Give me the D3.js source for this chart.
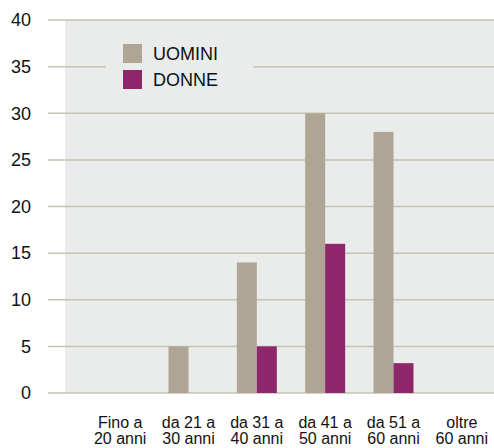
<!DOCTYPE html>
<meta charset="utf-8">
<script src="https://d3js.org/d3.v7.js"></script>
<style>
  body { margin: 0; background: #fff; }
  text { font-family: "Liberation Sans", Arial, sans-serif; fill: #111; }
</style>
<svg id="chart" width="494" height="448"></svg>
<script>

// data
const categories = [["Fino a", "20 anni"], ["da 21 a", "30 anni"], ["da 31 a", "40 anni"],
                    ["da 41 a", "50 anni"], ["da 51 a", "60 anni"], ["oltre", "60 anni"]];
const series = ["UOMINI", "DONNE"];
const uomini = [0, 5, 14, 30, 28, 0];
const donne  = [0, 0, 5, 16, 3.2, 0];
const yTicks = [0, 5, 10, 15, 20, 25, 30, 35, 40];

const colors = {UOMINI: "#afa594", DONNE: "#8e266b"};

const svg = d3.select("#chart");

const y = d3.scaleLinear().domain([0, 40]).range([393, 20]);
const x = d3.scaleBand()
    .domain(d3.range(categories.length))
    .range([86, 496])
    .paddingInner(0.415)
    .paddingOuter(0.2075);
const xs = d3.scaleBand().domain(series).range([0, x.bandwidth()]);

// plot background
svg.append("rect")
    .attr("x", 65).attr("y", y(40))
    .attr("width", 494 - 65).attr("height", y(0) - y(40))
    .attr("fill", "#eaebeb");

// grid lines
svg.append("g")
  .selectAll("line")
  .data(yTicks)
  .join("line")
    .attr("x1", 48).attr("x2", 494)
    .attr("y1", d => y(d)).attr("y2", d => y(d))
    .attr("stroke", "#c6c3b3")
    .attr("stroke-width", 1.5);

// y labels
svg.append("g")
  .selectAll("text")
  .data(yTicks)
  .join("text")
    .attr("x", 31)
    .attr("y", d => y(d))
    .attr("dy", "0.35em")
    .attr("text-anchor", "end")
    .style("font-size", "18px")
    .text(d => d);

// bars
const rows = categories.map((c, i) => ({i, UOMINI: uomini[i], DONNE: donne[i]}));
svg.append("g")
  .selectAll("g")
  .data(rows)
  .join("g")
    .attr("transform", d => `translate(${x(d.i)},0)`)
  .selectAll("rect")
  .data(d => series.map(s => ({s, v: d[s]})).filter(e => e.v > 0))
  .join("rect")
    .attr("x", d => xs(d.s))
    .attr("width", xs.bandwidth())
    .attr("y", d => y(d.v))
    .attr("height", d => y(0) - y(d.v))
    .attr("fill", d => colors[d.s]);

// x labels
const xl = svg.append("g")
  .selectAll("text")
  .data(categories)
  .join("text")
    .attr("text-anchor", "middle")
    .style("font-size", "16px");
xl.append("tspan")
    .attr("x", (d, i) => x(i) + x.bandwidth() / 2)
    .attr("y", 428)
    .text(d => d[0]);
xl.append("tspan")
    .attr("x", (d, i) => x(i) + x.bandwidth() / 2)
    .attr("y", 444)
    .text(d => d[1]);

// legend
const legend = svg.append("g");
legend.append("rect")
    .attr("x", 106).attr("y", 34)
    .attr("width", 147).attr("height", 66)
    .attr("fill", "#eaebeb");
const li = legend.selectAll("g")
  .data(series)
  .join("g")
    .attr("transform", (d, i) => `translate(123,${44 + i * 26})`);
li.append("rect")
    .attr("width", 19).attr("height", 19)
    .attr("fill", d => colors[d]);
li.append("text")
    .attr("x", 30).attr("y", 10)
    .attr("dy", "0.35em")
    .style("font-size", "18px")
    .text(d => d);

</script>
